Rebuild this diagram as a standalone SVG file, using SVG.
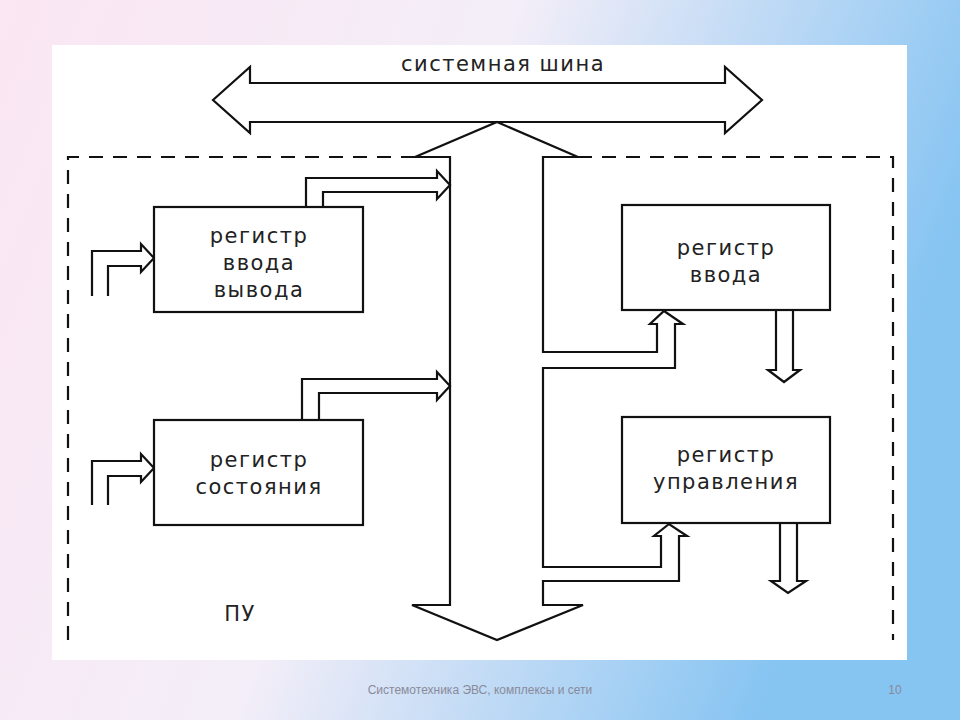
<svg xmlns="http://www.w3.org/2000/svg" width="960" height="720" viewBox="0 0 960 720">
<defs>
<linearGradient id="bg" x1="0" y1="0" x2="1" y2="0.3">
<stop offset="0" stop-color="#fbe6f3"/><stop offset="0.5" stop-color="#f3eef8"/><stop offset="1" stop-color="#86c4f2"/>
</linearGradient>
<style>
.s{fill:none;stroke:#111;stroke-width:2.2}
.w{fill:#fff;stroke:#111;stroke-width:2.2}
.d{fill:none;stroke:#111;stroke-width:2.2;stroke-dasharray:14 10}
.t{font-family:"DejaVu Sans",sans-serif;font-size:21px;letter-spacing:1.5px;fill:#222;text-anchor:middle}
.f{font-family:"Liberation Sans",Arial,sans-serif;font-size:12px;fill:#8a8a9a;text-anchor:middle}
</style>
</defs>
<rect width="960" height="720" fill="url(#bg)"/>
<rect x="52" y="45" width="855" height="615" fill="#fff"/>
<text class="f" x="480" y="694">Системотехника ЭВС, комплексы и сети</text>
<text class="f" x="895" y="694">10</text>

<g id="border">
<path class="d" d="M68 640 V157 H415 M578 157 H893 V640"/>
<text class="t" x="240" y="621">ПУ</text>
</g>

<g id="connectors">
<path class="w" d="M213 100 L250 67 V83 H725 V67 L762 100 L725 133 V122 H250 V133 Z"/>
<text class="t" x="503" y="71">системная шина</text>
<path class="w" d="M497 122 L578 157 H543 V352 H657 V324 H650 L664 311 L683 324 H675 V368 H543 V567 H661 V536 H654 L669 524 L687 536 H679 V581 H543 V605 H583 L497 640 L412 605 H450 V157 H415 Z"/>
<path class="s" d="M306 207 V178 H437 V171 L450 185 L437 199 V192 H323 V207"/>
<path class="s" d="M302 420 V379 H437 V372 L450 386 L437 400 V393 H319 V420"/>
<path class="s" d="M92 296 V251 H141 V244 L154 258 L141 272 V266 H108 V296"/>
<path class="s" d="M92 505 V461 H141 V454 L154 468 L141 482 V476 H108 V505"/>
<path class="s" d="M776 310 V370 H768 L784 382 L800 370 H793 V310"/>
<path class="s" d="M780 523 V581 H771 L788 593 L806 581 H797 V523"/>
</g>

<g id="regA">
<rect class="w" x="154" y="207" width="209" height="105"/>
<text class="t" x="259" y="243">регистр</text>
<text class="t" x="259" y="270">ввода</text>
<text class="t" x="259" y="297">вывода</text>
</g>
<g id="regB">
<rect class="w" x="154" y="420" width="209" height="105"/>
<text class="t" x="259" y="467">регистр</text>
<text class="t" x="259" y="494">состояния</text>
</g>
<g id="regC">
<rect class="w" x="622" y="205" width="208" height="105"/>
<text class="t" x="726" y="255">регистр</text>
<text class="t" x="726" y="282">ввода</text>
</g>
<g id="regD">
<rect class="w" x="622" y="417" width="208" height="106"/>
<text class="t" x="726" y="462">регистр</text>
<text class="t" x="726" y="489">управления</text>
</g>
</svg>
